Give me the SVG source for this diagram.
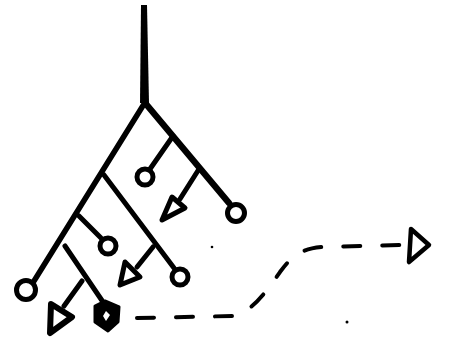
<svg xmlns="http://www.w3.org/2000/svg" width="464" height="345" viewBox="0 0 464 345">
<style>
.br{stroke:#000;fill:none;stroke-linecap:round;stroke-linejoin:round}
.nd{stroke:#000;fill:#fff;stroke-width:5;stroke-linejoin:round}
.dash{stroke:#000;fill:none;stroke-width:4;stroke-dasharray:17 22;stroke-linecap:round}
</style>
<rect width="464" height="345" fill="#fff"/>
<g id="connectors">
<path d="M141,5 L147,5 L149,103 L140,103 Z" fill="#000"/>
<line class="br" x1="144" y1="104" x2="34" y2="281" stroke-width="5.5"/>
<line class="br" x1="146" y1="104" x2="229" y2="203" stroke-width="6.5"/>
<line class="br" x1="173" y1="136" x2="150" y2="169" stroke-width="5"/>
<line class="br" x1="199" y1="169" x2="180" y2="199" stroke-width="5"/>
<line class="br" x1="104" y1="175" x2="174" y2="268" stroke-width="5"/>
<line class="br" x1="153" y1="247" x2="137" y2="267" stroke-width="5"/>
<line class="br" x1="79" y1="216" x2="101" y2="238" stroke-width="5"/>
<line class="br" x1="65" y1="246" x2="103" y2="302" stroke-width="5"/>
<line class="br" x1="82" y1="281" x2="64" y2="306" stroke-width="5"/>
<path class="dash" d="M137,318 L233,316 C252,312 266,292 280,272 C292,256 300,249 322,247 L402,245"/>
</g>
<g id="root-circle-left"><circle class="nd" cx="26" cy="290" r="9.5"/></g>
<g id="circle-r1"><circle class="nd" cx="145" cy="177" r="8"/></g>
<g id="tri-r2"><polygon class="nd" points="172,197 185,208 162,220"/></g>
<g id="circle-r-end"><circle class="nd" cx="236" cy="213" r="8.5"/></g>
<g id="circle-l1"><circle class="nd" cx="108" cy="246" r="8"/></g>
<g id="tri-s1"><polygon class="nd" points="125,262 140,277 120,285"/></g>
<g id="circle-s-end"><circle class="nd" cx="180" cy="277" r="8"/></g>
<g id="tri-t1"><polygon class="nd" style="stroke-width:6" points="51,304 72,317 50,333"/></g>
<g id="diamond-t-end"><polygon style="fill:#000;stroke:#000;stroke-width:3;stroke-linejoin:round" points="105,301 119,307 118,322 108,331 95,322 95,306"/><polygon fill="#fff" points="106,311 110,315 106,321 103,316"/></g>
<g id="tri-target"><polygon class="nd" style="stroke-width:4.5" points="411,229 429,245 409,262"/></g>
<circle cx="212" cy="247" r="1.3" fill="#000"/>
<circle cx="347" cy="322" r="1.5" fill="#000"/>
</svg>
